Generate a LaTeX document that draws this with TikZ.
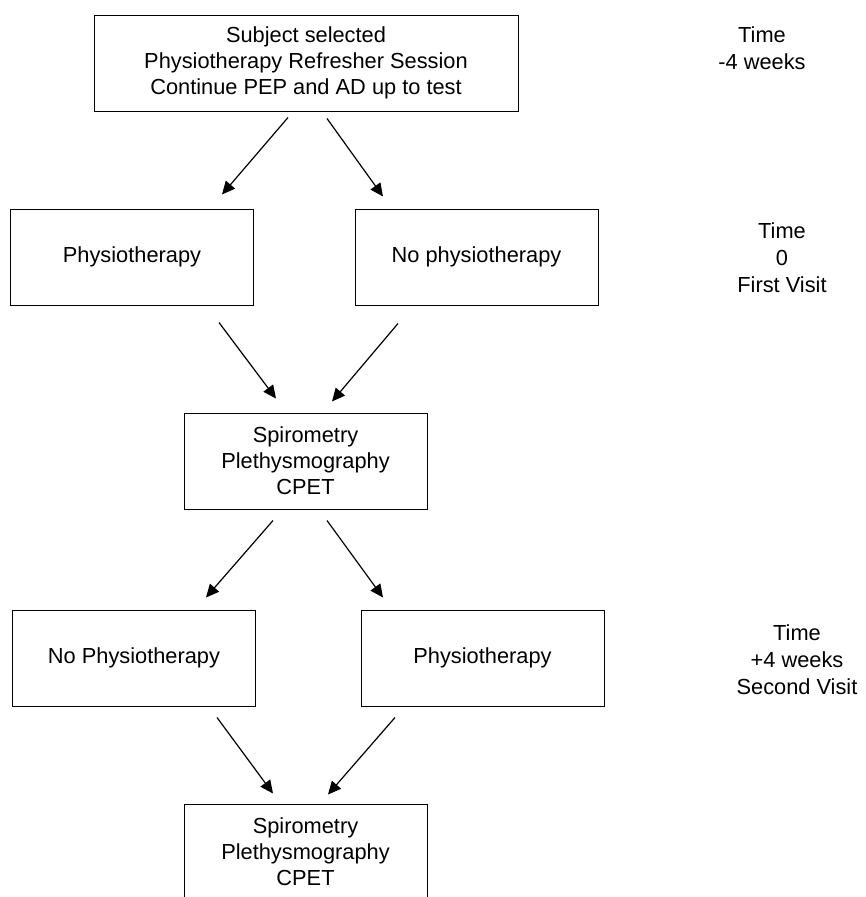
\documentclass[tikz,border=0pt]{standalone}
\usepackage{fontspec}
\setmainfont{Liberation Sans}
\usepackage{tikz}
\usetikzlibrary{arrows.meta}

\begin{document}
\begin{tikzpicture}[x=1pt,y=-1pt]
  \tikzstyle{box}=[draw,line width=1pt,minimum width=243pt,minimum height=96pt,align=center,inner sep=0pt,font=\fontsize{21.8}{26}\selectfont]
  \tikzstyle{time text}=[align=center,inner sep=0pt,font=\fontsize{21.8}{27}\selectfont]
  \tikzstyle{flow}=[line width=1.2pt,-{Triangle[length=13pt,width=12pt]}]

  \useasboundingbox (0,0) rectangle (865,897);

  % boxes
  \node [box, minimum width=424pt] (start) at (306, 63) {Subject selected\\Physiotherapy Refresher Session\\Continue PEP and AD up to test};

  \node [box] (physA) at (132, 257) {Physiotherapy};
  \node [box] (nophysA) at (476.5, 257) {No physiotherapy};

  \node [box] (testA) at (305.5, 461) {Spirometry\\Plethysmography\\CPET};

  \node [box] (nophysB) at (134, 658) {No Physiotherapy};
  \node [box] (physB) at (482.5, 658) {Physiotherapy};

  \node [box] (testB) at (305.5, 852) {Spirometry\\Plethysmography\\CPET};

  % time line on the right
  \node [time text] (timeA) at (762, 48) {Time\\-4 weeks};
  \node [time text] (timeB) at (782, 258) {Time\\0\\First Visit};
  \node [time text] (timeC) at (797, 660) {Time\\+4 weeks\\Second Visit};

  % arrows
  \draw [flow] ([xshift=-18pt,yshift=-6pt]start.south) -- ([xshift=90pt,yshift=14pt]physA.north);
  \draw [flow] ([xshift=21pt,yshift=-7pt]start.south) -- ([xshift=-93.5pt,yshift=12pt]nophysA.north);

  \draw [flow] ([xshift=87pt,yshift=-17pt]physA.south) -- ([xshift=-29.5pt,yshift=14pt]testA.north);
  \draw [flow] ([xshift=-78.5pt,yshift=-18pt]nophysA.south) -- ([xshift=26.5pt,yshift=11pt]testA.north);

  \draw [flow] ([xshift=-32.5pt,yshift=-11pt]testA.south) -- ([xshift=72pt,yshift=12pt]nophysB.north);
  \draw [flow] ([xshift=21.5pt,yshift=-11pt]testA.south) -- ([xshift=-99.5pt,yshift=12pt]physB.north);

  \draw [flow] ([xshift=83pt,yshift=-11pt]nophysB.south) -- ([xshift=-32.5pt,yshift=10pt]testB.north);
  \draw [flow] ([xshift=-87.5pt,yshift=-11pt]physB.south) -- ([xshift=22.5pt,yshift=9pt]testB.north);
\end{tikzpicture}
\end{document}
